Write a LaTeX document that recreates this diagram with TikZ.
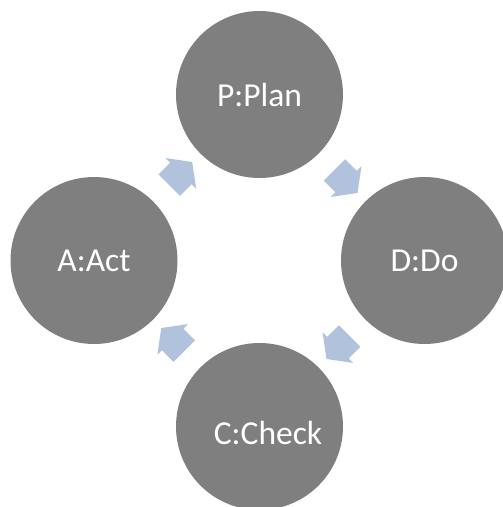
\documentclass[tikz,border=0pt]{standalone}
\usepackage{fontspec}
\setmainfont{Carlito}
\usetikzlibrary{shapes.arrows,calc}
\definecolor{circgray}{HTML}{7F7F7F}
\definecolor{arrowblue}{HTML}{B0C2DC}
\begin{document}
\begin{tikzpicture}[x=1pt,y=-1pt,
  stage/.style={circle, fill=circgray, minimum size=167pt, inner sep=0pt, text=white,
    font=\fontsize{33.5}{40}\selectfont},
  stagetext/.style={text=white, inner sep=0pt, font=\fontsize{33.5}{40}\selectfont},
  flow/.style={single arrow, fill=arrowblue, draw=none, minimum height=32.5pt,
    single arrow head extend=6.5pt, single arrow tip angle=107,
    inner xsep=0pt, inner ysep=15pt, outer sep=0pt}]
\useasboundingbox (0,0) rectangle (503,507);
\clip (0,0) rectangle (503,507);
\node[stage] (P) at (259.5,94.5) {P:Plan};
\node[stage] (D) at (424.5,260.5) {D:Do};
\node[stage] (C) at (259.5,426.5) {};
\node[stagetext] (Ct) at ($(C.center)+(8.5,6.5)$) {C:Check};
\node[stage] (A) at (94,260.5) {A:Act};
\node[flow, rotate=-45] (PD) at ($(P)!0.5!(D)$) {};
\node[flow, rotate=-135] (DC) at ($(D)!0.5!(C)$) {};
\node[flow, rotate=135] (CA) at ($(C)!0.5!(A)$) {};
\node[flow, rotate=45] (AP) at ($(A)!0.5!(P)$) {};
\end{tikzpicture}
\end{document}
